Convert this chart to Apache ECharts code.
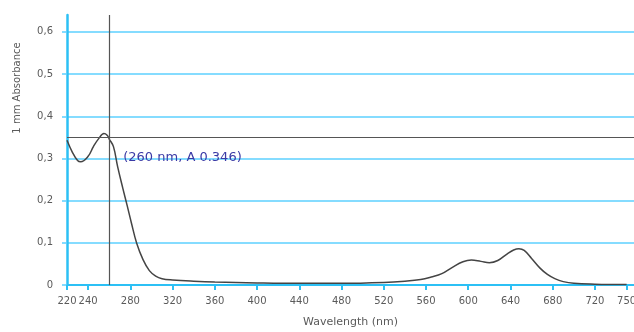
<!DOCTYPE html>
<html>
<head>
<meta charset="utf-8">
<script src="https://cdn.jsdelivr.net/npm/echarts@6/dist/echarts.min.js"></script>
<style>
  html, body { margin: 0; padding: 0; background: #fff; }
  #chart { width: 634px; height: 332px; }
</style>
</head>
<body>
<div id="chart"></div>
<script>
// spectrum
const wavelengths = [220, 225, 230, 233, 240, 245, 250, 255, 258, 260, 264, 268, 273, 277, 281, 286, 292, 298, 304, 310, 320, 340, 360, 400, 440, 480, 520, 540, 555, 565, 575, 585, 595, 603, 612, 620, 628, 637, 643, 648, 653, 660, 668, 675, 682, 690, 700, 720, 750];
const absorbance = [0.343, 0.315, 0.295, 0.292, 0.305, 0.328, 0.347, 0.359, 0.355, 0.346, 0.328, 0.280, 0.228, 0.188, 0.147, 0.099, 0.060, 0.034, 0.021, 0.015, 0.012, 0.009, 0.007, 0.005, 0.004, 0.004, 0.006, 0.009, 0.013, 0.019, 0.027, 0.042, 0.055, 0.059, 0.056, 0.053, 0.058, 0.074, 0.083, 0.086, 0.082, 0.063, 0.040, 0.025, 0.015, 0.008, 0.004, 0.002, 0.001];

const xTicks = [220, 240, 280, 320, 360, 400, 440, 480, 520, 560, 600, 640, 680, 720, 750];
const yTicks = [0, 0.1, 0.2, 0.3, 0.4, 0.5, 0.6];

// cursor position
const cursorNm = 260;
const cursorA = 0.346;

const chart = echarts.init(document.getElementById("chart"));

const blue = "#2cc0f5";
const gridBlue = "#5cd0ff";
const textGray = "#5a5a5a";

const option = {
  animation: false,
  grid: { left: 67, right: 0, top: 15, bottom: 47, outerBoundsMode: "none" },
  xAxis: {
    type: "value",
    min: 220,
    max: 757,
    name: "Wavelength (nm)",
    nameLocation: "middle",
    nameGap: 32,
    nameTextStyle: { color: textGray, fontSize: 11, fontFamily: "DejaVu Sans" },
    axisLine: { show: true, lineStyle: { color: blue, width: 2 } },
    axisTick: { show: true, length: 5, customValues: xTicks, lineStyle: { color: blue, width: 2 } },
    axisLabel: { customValues: xTicks, color: textGray, fontSize: 10, margin: 11, fontFamily: "DejaVu Sans" },
    splitLine: { show: false },
  },
  yAxis: {
    type: "value",
    min: 0,
    max: 0.64,
    interval: 0.1,
    axisLine: { show: true, lineStyle: { color: blue, width: 2.5 } },
    axisTick: { show: true, length: 5, customValues: yTicks, lineStyle: { color: gridBlue, width: 1.5 } },
    axisLabel: {
      customValues: yTicks,
      color: textGray,
      fontSize: 10,
      margin: 14,
      fontFamily: "DejaVu Sans",
      formatter: (v) => (v === 0 ? "0" : v.toFixed(1).replace(".", ",")),
    },
    splitLine: { show: true, lineStyle: { color: gridBlue, width: 1.5 } },
  },
  graphic: [
    {
      type: "text",
      x: 17,
      y: 88,
      rotation: Math.PI / 2,
      style: {
        text: "1 mm Absorbance",
        fill: textGray,
        fontSize: 10,
        fontFamily: "DejaVu Sans",
        align: "center",
        verticalAlign: "middle",
      },
    },
  ],
  series: [
    {
      type: "line",
      data: wavelengths.map((w, i) => [w, absorbance[i]]),
      smooth: 0.4,
      showSymbol: false,
      lineStyle: { color: "#444", width: 1.5 },
      markLine: {
        silent: true,
        symbol: "none",
        label: { show: false },
        lineStyle: { color: "#555", width: 1.2, type: "solid" },
        data: [{ xAxis: cursorNm }, { yAxis: cursorA }],
      },
      markPoint: {
        silent: true,
        symbol: "circle",
        symbolSize: 0,
        data: [{ coord: [cursorNm, cursorA] }],
        label: {
          show: true,
          position: [14, 19],
          align: "left",
          verticalAlign: "middle",
          color: "#3a3aa6",
          fontSize: 13,
          fontFamily: "DejaVu Sans",
          formatter: "(" + cursorNm + " nm, A " + cursorA.toFixed(3) + ")",
        },
      },
    },
  ],
};

chart.setOption(option);
</script>
</body>
</html>
